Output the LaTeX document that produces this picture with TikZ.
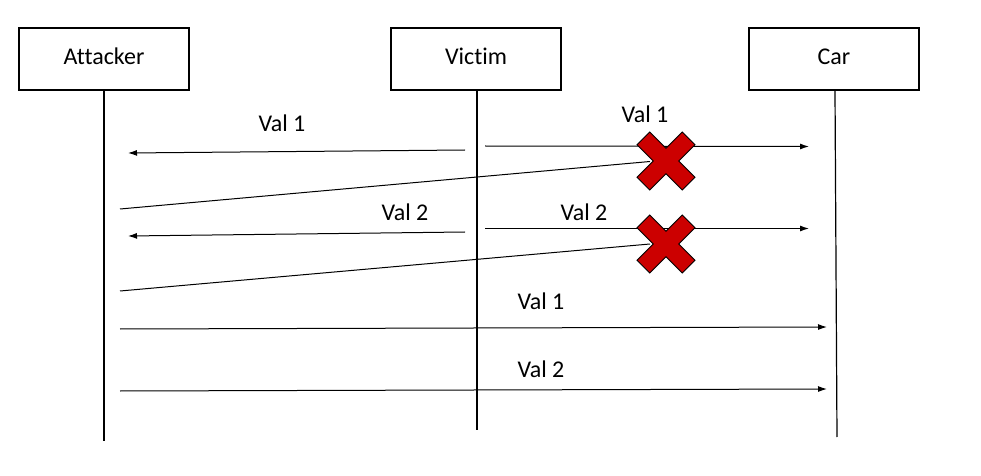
\documentclass[tikz,border=0pt]{standalone}
\usepackage{fontspec}
\setmainfont{Carlito}[Ligatures=NoCommon]
\usepackage{xcolor}
\definecolor{crossred}{HTML}{CC0000}
\usetikzlibrary{arrows.meta}
\tikzset{
  actor/.style={draw, line width=0.75pt, minimum width=85pt, minimum height=31pt, inner sep=0pt, text height=8.5pt, text depth=2.5pt, font=\fontsize{12}{14}\selectfont},
  lifeline/.style={line width=0.6pt},
  msg/.style={line width=0.5pt, -{Latex[length=4.5pt,width=3pt]}},
  lost/.style={line width=0.5pt},
  lbl/.style={font=\fontsize{12}{14}\selectfont, inner sep=0pt},
  redx/.pic={\filldraw[fill=crossred, draw=black, line width=0.5pt, rotate=45]
    (32,9) -- (9,9) -- (9,32) -- (-9,32) -- (-9,9) -- (-32,9) -- (-32,-9) -- (-9,-9) -- (-9,-32) -- (9,-32) -- (9,-9) -- (32,-9) -- cycle;}
}
\begin{document}
\begin{tikzpicture}[x=0.5pt, y=-0.5pt]
\useasboundingbox (0,0) rectangle (981,476);
% participants
\node[actor] (attacker) at (104,59) {Attacker};
\node[actor] (victim) at (476,59) {Victim};
\node[actor] (car) at (834,59) {Car};
\coordinate (attackerend) at (104,441);
\coordinate (victimend) at (477,430);
\coordinate (carend) at (837,437);
\draw[lifeline] (attacker.south -| attackerend) -- (attackerend);
\draw[lifeline] (victim.south -| victimend) -- (victimend);
\draw[lifeline] (car.south -| 835,0) -- (carend);
% message ends
\coordinate (v1a) at (465,150); \coordinate (a1) at (128,153);
\coordinate (v1c) at (485,146); \coordinate (c1) at (809,146.5);
\coordinate (a1x) at (120,209); \coordinate (x1) at (650,161.5);
\coordinate (v2a) at (465,232); \coordinate (a2) at (128,236);
\coordinate (v2c) at (485,228.5); \coordinate (c2) at (809,228.5);
\coordinate (a2x) at (120,291); \coordinate (x2) at (650,244);
\coordinate (a3) at (120,329); \coordinate (c3) at (827,327);
\coordinate (a4) at (120,391); \coordinate (c4) at (827,389);
% messages
\draw[msg] (v1a) -- (a1);
\draw[msg] (v1c) -- (c1);
\draw[lost] (a1x) -- (x1);
\draw[msg] (v2a) -- (a2);
\draw[msg] (v2c) -- (c2);
\draw[lost] (a2x) -- (x2);
\draw[msg] (a3) -- (c3);
\draw[msg] (a4) -- (c4);
% labels
\node[lbl] (l1) at (282,123) {Val 1};
\node[lbl] (l2) at (645,114) {Val 1};
\node[lbl] (l3) at (405,212) {Val 2};
\node[lbl] (l4) at (584,212) {Val 2};
\node[lbl] (l5) at (541,301) {Val 1};
\node[lbl] (l6) at (541,369) {Val 2};
% blocked messages
\pic at (666,161) {redx};
\pic at (666,244) {redx};
\end{tikzpicture}
\end{document}
